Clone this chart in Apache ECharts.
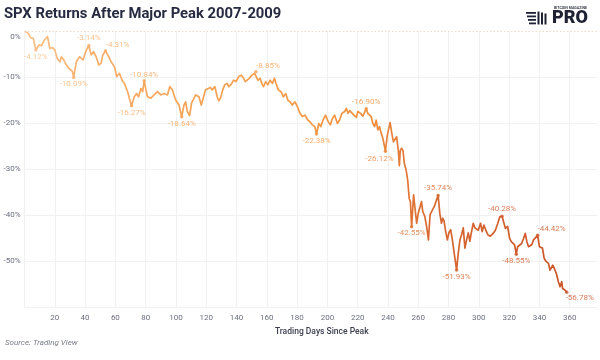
<!DOCTYPE html>
<html><head><meta charset="utf-8">
<script src="https://cdn.jsdelivr.net/npm/echarts@6/dist/echarts.min.js"></script>
<style>html,body{margin:0;padding:0;background:#fff}#c{width:600px;height:360px}</style>
</head><body><div id="c"></div>
<script>
// Trading days since peak and SPX drawdown (%)
const days = [0,2.5,4,5.8,7.5,9.7,11.3,13,13.9,15.2,16.7,18.5,20,21.5,23.3,24.4,25.9,27.7,29.2,30.3,31.6,32.5,34.2,36.4,38.6,40.4,42.5,44,45.6,47.3,49.1,50.6,51.7,53.5,55,57.2,59.4,60.9,62.7,64.4,65.9,68.1,69.2,70.7,72.5,74,75.3,76.9,78,79,80.2,81.2,83.4,85.6,87.8,90,92.2,94.4,95.9,97.7,99.8,102,103.8,
105.3,106.4,107.5,109,110.3,111.4,113,114.1,115.2,116.7,118,119.5,121.3,122.8,123.9,125.7,127.2,128.3,129.4,130.9,132.2,133.8,134.8,136.4,138.1,139.7,141.4,143.2,144.7,145.8,146.9,148.4,150.2,151.9,152.8,154.1,155.6,156.7,157.8,159.3,160.6,162.2,163.7,165,166.1,167.6,169.4,170.9,172.5,173.8,175.3,176.8,178.6,180.1,181.9,183.4,185.2,186.9,188.4,190,191.7,192.8,194.3,195.6,197.2,198.7,200.5,202,203.3,204.8,206.6,208.1,209.6,211.4,
212.5,213.6,214.7,215.8,217.5,219.1,220.1,221.9,223.4,224.5,225.6,226.7,227.8,228.9,230,231.1,232.2,233.3,234.4,235.5,236.6,237.4,238.3,239.4,240.3,241.4,242.5,243.6,244.6,245.7,246.8,247.5,248.1,249,249.9,250.8,251.9,253,254,254.8,255.6,
256.9,257.8,258.9,260,261,262.1,263,264.3,265.5,266.7,267.8,269.4,270.5,271.6,273.1,274.2,275.3,276.1,277,278.1,279.2,280.3,281.4,282.5,283.6,285.3,286.4,287.5,288.6,289.7,290.8,291.9,293,294.1,295,296.3,297.4,298.5,299.6,301.1,302.2,303.3,304.6,305.9,307.6,309.4,310.9,312.5,313.8,315.3,316.4,317.5,319,320.3,321.4,322.5,323.6,324.7,325.6,326.9,328.2,329.5,330.6,331.7,332.8,333.9,335,336.1,337.2,338.8,340,341,342,343.1,344.4,345.9,347,347.7,348.8,350.3,351.4,352.5,353.6,354.7,355.3,356.8,358];
const returns = [0,-0.5,-1.45,-1.6,-4.12,-3.0,-3.2,-2.0,-2.3,-1.2,-3.8,-3.6,-4.1,-5.9,-6.7,-5.6,-6.3,-7.4,-8.1,-8.0,-8.8,-10.09,-6.7,-5.6,-6.3,-4.5,-3.14,-5.2,-4.5,-5.6,-7.4,-7.0,-5.2,-4.31,-5.2,-6.7,-7.8,-9.9,-9.2,-10.7,-11.4,-13.2,-14.6,-16.27,-14.3,-13.6,-14.3,-12.5,-13.2,-10.84,-12.8,-14.3,-14.6,-13.9,-13.2,-13.9,-13.6,-13.9,-12.1,-12.8,-15,-16.1,-18.64,
-16.1,-15.4,-17.5,-18.4,-15.7,-16.1,-13.9,-13.6,-14.3,-16.1,-14.6,-12.8,-12.5,-12.3,-12.8,-12.1,-14.3,-15.2,-14.6,-12.8,-11.7,-11.4,-12.1,-11.6,-10.7,-11.0,-9.9,-9.6,-10.3,-11.0,-10.7,-10.3,-9.6,-9.2,-8.85,-10.7,-10.3,-11.4,-12.1,-11.0,-11.7,-10.7,-11.4,-10.3,-11.4,-12.8,-13.2,-14.3,-13.6,-15,-15.4,-16.1,-15.4,-16.4,-17.9,-18.6,-18.3,-19.3,-19.7,-20.4,-20.8,-22.38,-20.1,-20.8,-19.3,-18.3,-19.7,-20.4,-19.0,-18.3,-20.1,-19.3,-17.9,-17.5,
-16.8,-17.9,-17.3,-17.0,-18.3,-18.8,-17.5,-17.9,-18.5,-17.7,-16.90,-17.9,-17.8,-18.6,-20.1,-20.8,-19.4,-21.5,-20.8,-22.2,-23.3,-23.4,-26.12,-23.0,-21.5,-19.9,-22.2,-24.1,-23.7,-23.0,-25.9,-29.3,-26.0,-25.5,-26.0,-28.8,-30.1,-32.4,-36.4,-37.1,-42.55,
-35.6,-36.0,-41.8,-39.6,-39.9,-37.1,-39.3,-40.3,-42.5,-45.4,-39.9,-38.9,-38.2,-37.8,-35.74,-39.6,-41.8,-40.7,-41.3,-43.6,-45.4,-43.8,-43.2,-45.4,-48.0,-51.93,-48.3,-45.4,-44.3,-42.8,-47.2,-45.4,-43.9,-45.7,-43.9,-41.8,-42.8,-42.5,-43.3,-41.8,-43.6,-42.2,-43.3,-44.3,-44.6,-44.0,-43.3,-41.8,-40.4,-40.28,-40.7,-42.9,-42.5,-45.1,-45.8,-45.5,-46.5,-48.55,-46.9,-46.5,-46.2,-45.1,-44.0,-45.8,-46.9,-46.5,-46.4,-45.4,-45.8,-44.42,-46.9,-46.6,-47.2,-49.4,-50.1,-50.5,-52.0,-52.3,-50.9,-52.0,-53.0,-54.5,-55.6,-54.5,-56.0,-56.3,-56.78];

// Annotated peaks and troughs
const peakDays   = [7.5,32.5,42.5,53.5,70.7,79,103.8,152.8,192.8,225.6,238.3,255.6,273.1,285.3,315.3,324.7,338.8,358];
const peakValues = [-4.12,-10.09,-3.14,-4.31,-16.27,-10.84,-18.64,-8.85,-22.38,-16.90,-26.12,-42.55,-35.74,-51.93,-40.28,-48.55,-44.42,-56.78];

// Axis ticks
const xTicks = [20,40,60,80,100,120,140,160,180,200,220,240,260,280,300,320,340,360];
const yTicks = [0,-10,-20,-30,-40,-50];

// ---- styles (not data) ----
const labelOffsets = [[0,7],[0,7],[0,-7],[12,-6],[0,7],[0,-6],[0,7],[12,-6],[0,7],[0,-7],[-6,8],[0,6],[0,-7],[0,7],[0,-7],[0,7],[14,-6],[13,6]];
const colorStopsByDay = [[0,'#fbc189'],[40,'#f8b06e'],[100,'#f6a458'],[180,'#f39b48'],[225,'#f0913f'],[245,'#e67d39'],[265,'#d86a32'],[360,'#cb552a']];

function hex2rgb(h){return [parseInt(h.slice(1,3),16),parseInt(h.slice(3,5),16),parseInt(h.slice(5,7),16)];}
function colorAt(d){
  const s = colorStopsByDay;
  if (d <= s[0][0]) return s[0][1];
  for (let i=1;i<s.length;i++){
    if (d <= s[i][0]){
      const t=(d-s[i-1][0])/(s[i][0]-s[i-1][0]);
      const a=hex2rgb(s[i-1][1]), b=hex2rgb(s[i][1]);
      return 'rgb('+a.map((v,k)=>Math.round(v+(b[k]-v)*t)).join(',')+')';
    }
  }
  return s[s.length-1][1];
}

const GRID_L = 24.5, GRID_R = 0, X_MAX = 378;
const pxPerDay = (600 - GRID_L - GRID_R) / X_MAX;
const grad = {
  type:'linear', global:true, x:GRID_L, y:0, x2:GRID_L + 360*pxPerDay, y2:0,
  colorStops: colorStopsByDay.map(s=>({offset:s[0]/360, color:s[1]}))
};

const FONT = 'Roboto';
const chart = echarts.init(document.getElementById('c'), null, {renderer:'canvas'});
chart.setOption({
  animation:false,
  backgroundColor:'#fff',
  grid:{left:GRID_L, right:GRID_R, top:31, bottom:53, containLabel:false},
  xAxis:{
    type:'value', min:0, max:X_MAX, interval:20,
    name:'Trading Days Since Peak', nameLocation:'middle', nameGap:18,
    nameTextStyle:{fontSize:8.5, fontWeight:500, color:'#3a3d4d', fontFamily:FONT, padding:[0,0,0,22]},
    axisLine:{show:false}, axisTick:{show:false},
    axisLabel:{fontSize:8, color:'#6b6e80', fontFamily:FONT, margin:7,
      formatter:v=> xTicks.indexOf(v) >= 0 ? String(v) : ''},
    splitLine:{show:true, showMaxLine:false, lineStyle:{color:'#f1f1f1', width:1}}
  },
  yAxis:{
    type:'value', min:-60, max:0, interval:10,
    axisLine:{show:false}, axisTick:{show:false},
    axisLabel:{fontSize:8, color:'#6b6e80', fontFamily:FONT, margin:4,
      formatter:v=> v===0 ? '{z|0%}' : (yTicks.indexOf(v) >= 0 ? v+'%' : ''),
      rich:{z:{fontSize:8, color:'#6b6e80', fontFamily:FONT, padding:[11,0,0,0]}}},
    splitLine:{show:true, showMaxLine:false, lineStyle:{color:'#f1f1f1', width:1}}
  },
  series:[
    {
      type:'line', data: days.map((d,i)=>[d, returns[i]]),
      showSymbol:false, symbol:'none',
      lineStyle:{width:1.7, color:grad, join:'round'},
      z:2
    },
    {
      type:'scatter', z:3,
      data: peakDays.map((d,i)=>({
        value:[d, peakValues[i]],
        itemStyle:{color:colorAt(d)},
        label:{offset:labelOffsets[i], color:colorAt(d)}
      })),
      symbolSize:3.5,
      label:{show:true, position:'inside', fontSize:8, fontFamily:FONT,
        formatter:p=> p.value[1].toFixed(2)+'%'},
      markLine:{silent:true, symbol:'none', label:{show:false},
        lineStyle:{color:'#ecdccc', type:[1.5,2], width:1},
        data:[{yAxis:0}]}
    }
  ],
  graphic:[
    {type:'text', left:4, top:7, style:{text:'SPX Returns After Major Peak 2007-2009',
      font:'bold 14.8px Roboto', fill:'#272b41'}},
    {type:'text', left:5, top:339, style:{text:'Source: Trading View',
      font:'italic 8px Roboto', fill:'#7a7c88'}},
    // logo
    {type:'group', left:526, top:6, children:[
      {type:'rect', shape:{x:0, y:6, width:10, height:1.8}, style:{fill:'#1f2233'}},
      {type:'rect', shape:{x:1, y:9.5, width:9, height:1.8}, style:{fill:'#1f2233'}},
      {type:'rect', shape:{x:2, y:13, width:8, height:1.8}, style:{fill:'#1f2233'}},
      {type:'rect', shape:{x:3, y:16.5, width:7, height:1.8}, style:{fill:'#1f2233'}},
      {type:'rect', shape:{x:11.5, y:5.5, width:2, height:13}, style:{fill:'#1f2233'}},
      {type:'rect', shape:{x:15, y:6.5, width:2, height:12}, style:{fill:'#1f2233'}},
      {type:'rect', shape:{x:18.5, y:7.5, width:2, height:11}, style:{fill:'#1f2233'}},
      {type:'text', x:28, y:0, style:{text:'BITCOIN MAGAZINE', font:'bold 3.6px Roboto', fill:'#3a3d4d'}},
      {type:'text', x:26, y:3, style:{text:'PRO', font:'900 18px Roboto', fill:'#1f2233'}}
    ]}
  ]
});
</script>
</body></html>
